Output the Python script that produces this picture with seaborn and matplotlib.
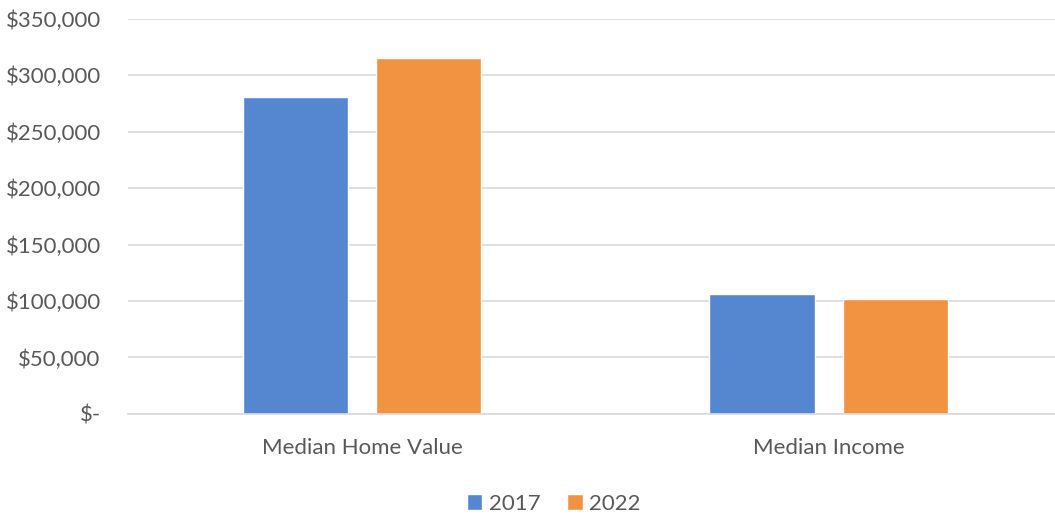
import matplotlib
matplotlib.use("Agg")
import matplotlib.pyplot as plt
import seaborn as sns
import pandas as pd
from matplotlib.ticker import FuncFormatter
from matplotlib.patches import Patch

categories = ["Median Home Value", "Median Income"]
years = ["2017", "2022"]
values_2017 = [281000, 106500]
values_2022 = [315000, 102000]
colors = ["#5587D0", "#F29341"]

df = pd.DataFrame({
    "category": categories * 2,
    "year": [years[0]] * 2 + [years[1]] * 2,
    "value": values_2017 + values_2022,
})

sns.set_theme(style="white")
plt.rcParams["font.family"] = ["Lato", "DejaVu Sans"]

fig = plt.figure(figsize=(10.55, 5.22), dpi=100)
ax = fig.add_axes([0.1218, 0.207, 0.885, 0.757])

sns.barplot(data=df, x="category", y="value", hue="year", palette=colors,
            width=0.571, gap=0.21, ax=ax, legend=False, saturation=1,
            errorbar=None)

ax.set_xlim(-0.5, 1.5)
ax.set_ylim(0, 350000)
ax.set_yticks(range(0, 350001, 50000))
ax.yaxis.set_major_formatter(FuncFormatter(lambda v, p: "$-" if v == 0 else f"${v:,.0f}"))
ax.grid(axis="y", color="#D9D9D9", linewidth=1.2)
ax.set_axisbelow(True)
for s in ["top", "right", "left"]:
    ax.spines[s].set_visible(False)
ax.spines["bottom"].set_color("#D9D9D9")
ax.spines["bottom"].set_linewidth(1.2)
ax.set_xlabel("")
ax.set_ylabel("")
ax.tick_params(axis="both", length=0, labelsize=16, labelcolor="#595959")
ax.tick_params(axis="y", pad=20)
ax.tick_params(axis="x", pad=17)

handles = [Patch(facecolor=c, label=y) for c, y in zip(colors, years)]
fig.legend(handles=handles, loc="center", bbox_to_anchor=(0.525, 0.035), ncol=2,
           frameon=False, fontsize=16, labelcolor="#595959",
           handlelength=0.7, handleheight=0.7, handletextpad=0.3, columnspacing=1.2)

fig.savefig("out.png", dpi=100)
